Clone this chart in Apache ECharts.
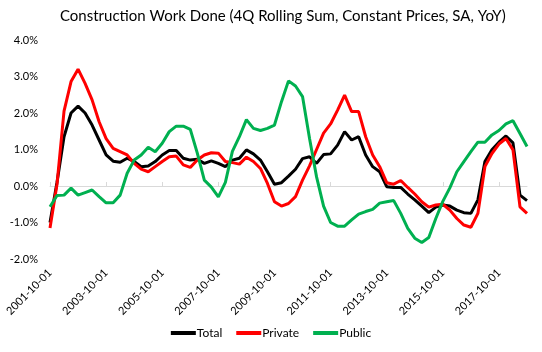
<!DOCTYPE html>
<html>
<head>
<meta charset="utf-8">
<script src="https://cdn.jsdelivr.net/npm/echarts@6/dist/echarts.min.js"></script>
<style>
  html, body { margin: 0; padding: 0; background: #fff; }
  #chart { width: 542px; height: 352px; }
</style>
</head>
<body>
<div id="chart"></div>
<script>
// quarterly dates, 2001-10-01 to 2018-10-01
var dates = [];
for (var y = 2001, q = 3; dates.length < 69; q++) {
	if (q > 3) { q = 0; y++; }
	dates.push(y + '-' + ['01', '04', '07', '10'][q] + '-01');
}

var total = [
	-1.0, 0.1, 1.35, 2.0, 2.19, 2.0, 1.67, 1.26, 0.85, 0.68, 0.65, 0.76,
	0.67, 0.53, 0.55, 0.67, 0.85, 0.97, 0.97, 0.76, 0.71, 0.73, 0.62, 0.69,
	0.62, 0.53, 0.71, 0.76, 0.99, 0.88, 0.71, 0.39, 0.05, 0.09, 0.27, 0.46,
	0.75, 0.8, 0.62, 0.86, 0.88, 1.12, 1.49, 1.26, 1.35, 0.85, 0.53, 0.39,
	-0.02, -0.04, -0.04, -0.22, -0.38, -0.55, -0.73, -0.58, -0.52, -0.55, -0.66, -0.73,
	-0.75, -0.38, 0.67, 0.99, 1.2, 1.37, 1.18, -0.25, -0.4
];
var priv = [
	-1.15, 0.05, 2.05, 2.86, 3.2, 2.81, 2.36, 1.76, 1.3, 1.03, 0.94, 0.85,
	0.62, 0.46, 0.39, 0.53, 0.67, 0.8, 0.82, 0.58, 0.51, 0.71, 0.85, 0.91,
	0.9, 0.67, 0.64, 0.6, 0.79, 0.67, 0.48, 0.07, -0.43, -0.55, -0.48, -0.29,
	0.16, 0.55, 1.0, 1.45, 1.7, 2.08, 2.49, 2.04, 2.04, 1.35, 0.85, 0.53,
	0.09, 0.05, 0.15, -0.04, -0.22, -0.43, -0.58, -0.52, -0.5, -0.66, -0.89, -1.07,
	-1.13, -0.75, 0.53, 0.89, 1.15, 1.3, 0.99, -0.57, -0.75
];
var pub = [
	-0.57, -0.26, -0.25, -0.06, -0.25, -0.18, -0.11, -0.29, -0.46, -0.46, -0.25, 0.35,
	0.71, 0.85, 1.06, 0.94, 1.17, 1.49, 1.64, 1.64, 1.55, 0.9, 0.16, -0.03,
	-0.3, 0.1, 0.95, 1.35, 1.82, 1.58, 1.52, 1.58, 1.67, 2.31, 2.88, 2.74,
	2.45, 1.3, 0.25, -0.55, -1.0, -1.1, -1.1, -0.93, -0.77, -0.7, -0.64, -0.47,
	-0.43, -0.4, -0.75, -1.16, -1.43, -1.55, -1.41, -0.89, -0.42, -0.05, 0.39, 0.67,
	0.94, 1.2, 1.2, 1.4, 1.52, 1.7, 1.79, 1.44, 1.08
];
var yTicks = [-2, -1, 0, 1, 2, 3, 4];

var font = 'Lato, "Open Sans", sans-serif';
var chart = echarts.init(document.getElementById('chart'));

function line(name, data, color) {
	return {
		name: name,
		type: 'line',
		data: data,
		xAxisIndex: 0,
		symbol: 'none',
		lineStyle: { width: 3, color: color },
		itemStyle: { color: color }
	};
}

var option = {
	animation: false,
	textStyle: { fontFamily: font },
	title: {
		text: 'Construction Work Done (4Q Rolling Sum, Constant Prices, SA, YoY)',
		left: 55,
		top: 4,
		textStyle: { fontFamily: font, fontSize: 15, fontWeight: 'normal', color: '#000' }
	},
	legend: {
		bottom: 8,
		left: 'center',
		icon: 'rect',
		itemWidth: 25,
		itemHeight: 4,
		itemGap: 14,
		textStyle: { fontFamily: font, fontSize: 12, color: '#000', padding: [0, 0, 0, -4] },
		data: ['Total', 'Private', 'Public']
	},
	grid: { left: 50, right: 15, top: 40, bottom: 93 },
	xAxis: [{
		type: 'category',
		data: dates,
		boundaryGap: false,
		axisLine: { show: false, onZero: false },
		axisTick: { show: false },
		axisLabel: { interval: 7, rotate: 45, margin: 12, fontSize: 11, color: '#000', fontFamily: font }
	}, {
		type: 'category',
		data: dates,
		position: 'bottom',
		boundaryGap: false,
		axisLine: { onZero: true, lineStyle: { color: '#D9D9D9', width: 1 } },
		axisTick: { interval: 7, inside: true, length: 4, lineStyle: { color: '#D9D9D9' } },
		axisLabel: { show: false }
	}],
	yAxis: {
		type: 'value',
		min: yTicks[0],
		max: yTicks[yTicks.length - 1],
		interval: 1,
		axisLine: { show: false },
		axisTick: { show: false },
		splitLine: { show: false },
		axisLabel: {
			margin: 12,
			fontSize: 11,
			color: '#000',
			fontFamily: font,
			formatter: function(v) { return v.toFixed(1) + '%'; }
		}
	},
	series: [
		line('Total', total, '#000000'),
		line('Private', priv, '#FF0000'),
		line('Public', pub, '#00B050')
	]
};
chart.setOption(option);
</script>
</body>
</html>
